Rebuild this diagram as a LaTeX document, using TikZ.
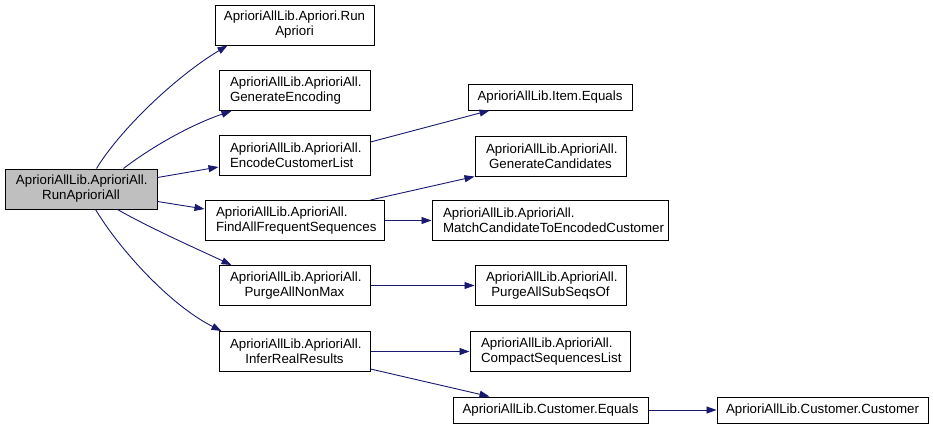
\documentclass[tikz,border=0pt]{standalone}
\usepackage{fontspec}
\setmainfont{Liberation Sans}
\usetikzlibrary{arrows.meta}
\definecolor{edgeblue}{HTML}{191970}
\definecolor{rootgray}{HTML}{BFBFBF}
\newcommand\lline[1]{\makebox[\linewidth][l]{\hspace*{11pt}#1}}
\tikzset{
  fn/.style 2 args={draw=black, line width=1pt, fill=white, inner sep=0pt, align=center,
    minimum width=#1, text width=#1, minimum height=#2,
    font=\fontsize{13.3}{15}\selectfont},
  rootfn/.style 2 args={fn={#1}{#2}, fill=rootgray},
  call/.style={draw=edgeblue, line width=0.9pt, -{Triangle[length=10pt,width=7pt]}},
}
\begin{document}
\begin{tikzpicture}[x=1pt,y=-1pt]
\useasboundingbox (0,0) rectangle (933,429);
\node[rootfn={152pt}{40pt}] (root) at (81,189) {\lline{AprioriAllLib.AprioriAll.}\\RunAprioriAll};
\node[fn={159pt}{40pt}] (run) at (294.5,25) {AprioriAllLib.Apriori.Run\\Apriori};
\node[fn={151pt}{40pt}] (genenc) at (294.5,90.5) {\lline{AprioriAllLib.AprioriAll.}\\\lline{GenerateEncoding}};
\node[fn={151pt}{40pt}] (encode) at (294.5,155.5) {\lline{AprioriAllLib.AprioriAll.}\\\lline{EncodeCustomerList}};
\node[fn={179pt}{40pt}] (findall) at (294.5,220.5) {\lline{AprioriAllLib.AprioriAll.}\\\lline{FindAllFrequentSequences}};
\node[fn={151pt}{40pt}] (purge) at (294.5,285.5) {\lline{AprioriAllLib.AprioriAll.}\\PurgeAllNonMax};
\node[fn={151pt}{40pt}] (infer) at (294.5,351.5) {\lline{AprioriAllLib.AprioriAll.}\\InferRealResults};
\node[fn={164pt}{26pt}] (item) at (550,97) {AprioriAllLib.Item.Equals};
\node[fn={151pt}{40pt}] (gencand) at (550.5,156) {\lline{AprioriAllLib.AprioriAll.}\\GenerateCandidates};
\node[fn={236pt}{40pt}] (match) at (550,220.5) {\lline{AprioriAllLib.AprioriAll.}\\\lline{MatchCandidateToEncodedCustomer}};
\node[fn={151pt}{40pt}] (purgesub) at (550.5,285.5) {\lline{AprioriAllLib.AprioriAll.}\\PurgeAllSubSeqsOf};
\node[fn={160pt}{40pt}] (compact) at (550,351.5) {\lline{AprioriAllLib.AprioriAll.}\\\lline{CompactSequencesList}};
\node[fn={195pt}{26pt}] (custeq) at (550.5,410) {AprioriAllLib.Customer.Equals};
\node[fn={211pt}{26pt}] (custcust) at (822.5,410) {AprioriAllLib.Customer.Customer};

\draw[call] ([xshift=92pt]root.north west) .. controls (120,130) and (175,77) .. ([xshift=13pt]run.south west);
\draw[call] ([xshift=119pt]root.north west) .. controls (150,148) and (190,125) .. ([xshift=13pt]genenc.south west);
\draw[call] ([yshift=-9pt]root.north east) -- ([yshift=9pt]encode.south west);
\draw[call] ([yshift=8pt]root.south east) -- ([yshift=-9pt]findall.north west);
\draw[call] ([xshift=113pt]root.south west) .. controls (150,228) and (195,248) .. ([xshift=13pt]purge.north west);
\draw[call] ([xshift=91pt]root.south west) .. controls (120,250) and (170,305) .. ([xshift=3pt]infer.north west);

\draw[call] ([yshift=-7pt]encode.north east) -- ([xshift=22pt]item.south west);
\draw[call] ([xshift=-14pt]findall.north east) -- (gencand.south west);
\draw[call] (findall.east) -- (match.west);
\draw[call] (purge.east) -- (purgesub.west);
\draw[call] (infer.east) -- (compact.west);
\draw[call] ([yshift=3pt]infer.south east) -- ([xshift=37pt]custeq.north west);
\draw[call] (custeq.east) -- (custcust.west);
\end{tikzpicture}
\end{document}
